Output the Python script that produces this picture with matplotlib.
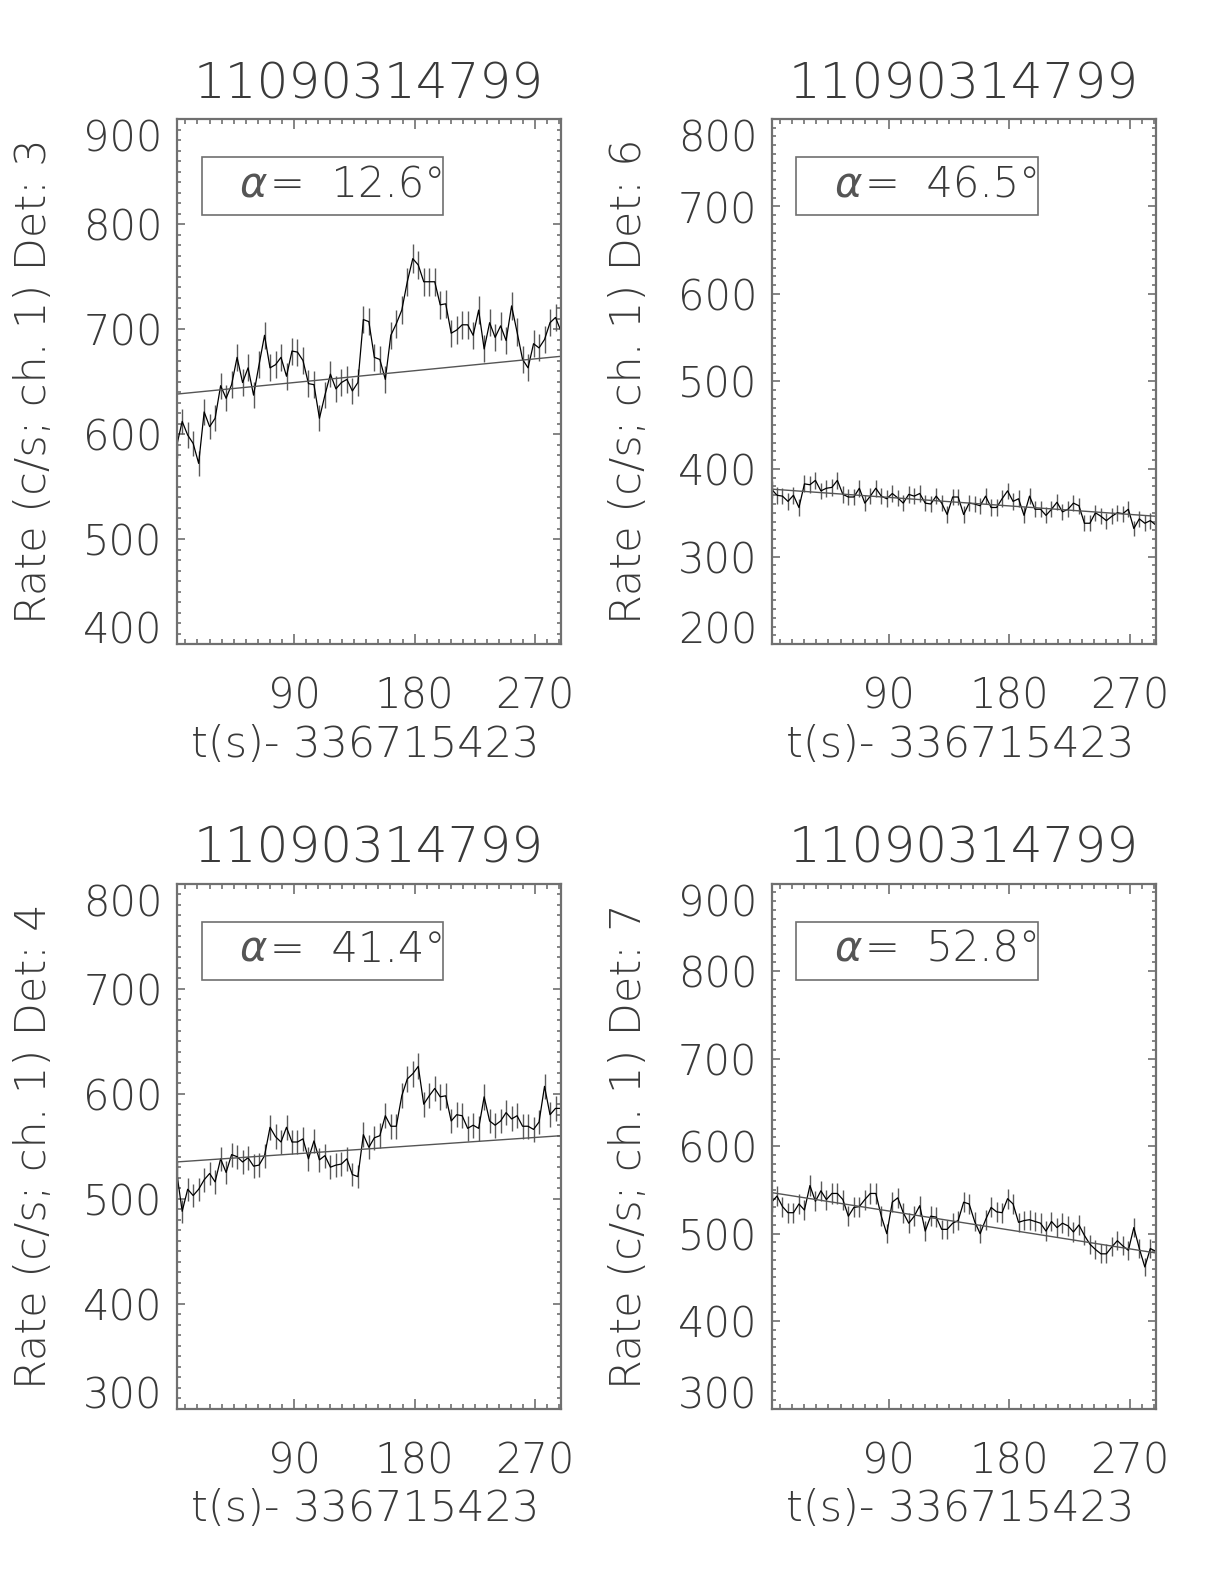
import numpy as np
import matplotlib
matplotlib.use("Agg")
import matplotlib.pyplot as plt
from matplotlib.ticker import MultipleLocator
from matplotlib.patches import Rectangle

plt.rcParams['font.family'] = ['DejaVu Sans']
plt.rcParams['font.weight'] = 'light'
plt.rcParams['axes.labelweight'] = 'light'
plt.rcParams['axes.titleweight'] = 'light'

# time bins (s after 336715423)
dt = 4.096
t = 2.5 + dt * np.arange(71)

burst = "11090314799"
xlab = "t(s)- 336715423"

# count rates, channel 1
rate_det3 = [589, 612, 599, 591, 572, 621, 607, 615, 646, 634, 647, 673, 649, 663, 637,
             666, 694, 663, 666, 673, 655, 679, 678, 670, 648, 647, 615, 637, 657, 643,
             649, 652, 641, 649, 709, 707, 673, 671, 652, 694, 705, 718, 745, 767, 761,
             745, 745, 745, 723, 724, 696, 699, 704, 704, 694, 718, 681, 706, 692, 703,
             689, 722, 697, 671, 663, 686, 682, 690, 706, 711, 698]
rate_det6 = [377, 370, 369, 363, 370, 356, 383, 382, 387, 375, 378, 379, 387, 371, 368,
             368, 378, 361, 369, 378, 369, 366, 372, 367, 361, 371, 369, 372, 361, 360,
             369, 361, 348, 368, 368, 348, 361, 360, 358, 369, 356, 356, 366, 375, 363,
             366, 347, 369, 354, 354, 347, 354, 362, 351, 354, 361, 358, 338, 338, 350,
             346, 341, 346, 350, 349, 354, 332, 343, 338, 341, 336]
rate_det4 = [525, 488, 509, 503, 509, 518, 524, 516, 538, 525, 542, 540, 535, 539, 531,
             532, 541, 568, 559, 554, 568, 554, 554, 557, 538, 555, 537, 541, 530, 532,
             533, 538, 523, 521, 561, 549, 558, 560, 579, 569, 569, 598, 614, 619, 626,
             590, 598, 605, 597, 598, 574, 580, 579, 567, 570, 567, 597, 574, 570, 574,
             582, 576, 579, 569, 569, 566, 573, 607, 580, 586, 586]
rate_det7 = [536, 543, 531, 524, 524, 534, 527, 555, 537, 549, 539, 546, 546, 539, 520,
             530, 531, 539, 546, 546, 520, 500, 536, 541, 524, 512, 520, 532, 503, 520,
             519, 505, 505, 512, 515, 536, 534, 514, 500, 516, 530, 525, 524, 540, 534,
             513, 515, 516, 514, 512, 503, 514, 507, 512, 509, 502, 510, 498, 488, 482,
             477, 477, 485, 492, 486, 481, 507, 483, 462, 483, 480]

# linear background fit: value at first and last bin
fit_det3 = [638, 674]
fit_det6 = [377, 346]
fit_det4 = [535, 560]
fit_det7 = [547, 478]

dets = [3, 6, 4, 7]
angles = [12.6, 46.5, 41.4, 52.8]
rates = [rate_det3, rate_det6, rate_det4, rate_det7]
fits = [fit_det3, fit_det6, fit_det4, fit_det7]
ylims = [(400, 900), (200, 800), (300, 800), (300, 900)]

fig = plt.figure(figsize=(12.24, 15.84), dpi=100)
W, H = 1224, 1584
boxes = [(176.7, 644), (771.5, 644), (176.7, 1408.7), (771.5, 1408.7)]
aw, ah = 384.3, 525

ink = '#3a3a3a'
grey = '#707070'

for k in range(4):
    x0, yb = boxes[k]
    ax = fig.add_axes([x0 / W, 1 - yb / H, aw / W, ah / H])
    r = np.array(rates[k], dtype=float)
    err = np.sqrt(r / dt)
    ax.vlines(t, r - err, r + err, color='#5a5a5a', lw=1.0)
    ax.plot(t, r, color='black', lw=0.9)
    ax.plot([t[0], t[-1]], fits[k], color='#555555', lw=1.0)

    lo, hi = ylims[k]
    ax.set_xlim(t[0], t[-1])
    ax.set_ylim(lo, hi)
    ax.set_xticks([90, 180, 270])
    ax.xaxis.set_minor_locator(MultipleLocator(9))
    ax.set_yticks(np.arange(lo, hi + 1, 100))
    ax.yaxis.set_minor_locator(MultipleLocator(10))
    ax.tick_params(which='both', direction='in', top=True, right=True, color=grey,
                   labelcolor=ink, labelsize=30)
    ax.tick_params(axis='x', which='major', length=7.5, width=1.2, pad=23)
    ax.tick_params(axis='x', which='minor', length=3.5, width=1.2)
    ax.tick_params(axis='y', which='major', length=5.5, width=1.2, pad=10)
    ax.tick_params(axis='y', which='minor', length=2.8, width=1.2)
    for s in ax.spines.values():
        s.set_color(grey)
        s.set_linewidth(1.6)

    # end labels sit inside the axis range
    labs = ax.get_yticklabels()
    labs[0].set_va('baseline')
    labs[-1].set_va('top')

    ax.set_title(burst, fontsize=36, color=ink, pad=15, fontweight='light')
    ax.set_xlabel(xlab, fontsize=31, color=ink, fontweight='light')
    ax.xaxis.set_label_coords(0.49, -0.152)
    ax.set_ylabel("Rate (c/s; ch. 1) Det: %d" % dets[k], fontsize=31, color=ink,
                  fontweight='light')
    ax.yaxis.set_label_coords(-0.318, 0.5)

    ax.add_patch(Rectangle((0.065, 0.817), 0.629, 0.11, transform=ax.transAxes,
                           fill=False, edgecolor=grey, lw=1.2))
    ax.text(0.165, 0.851, "α", transform=ax.transAxes, fontsize=30, style='italic',
            fontweight='light', color='#555555', va='baseline', ha='left')
    ax.text(0.243, 0.851, "=  %.1f°" % angles[k], transform=ax.transAxes, fontsize=30,
            fontweight='light', color=ink, va='baseline', ha='left')

fig.savefig("out.png", dpi=100)
